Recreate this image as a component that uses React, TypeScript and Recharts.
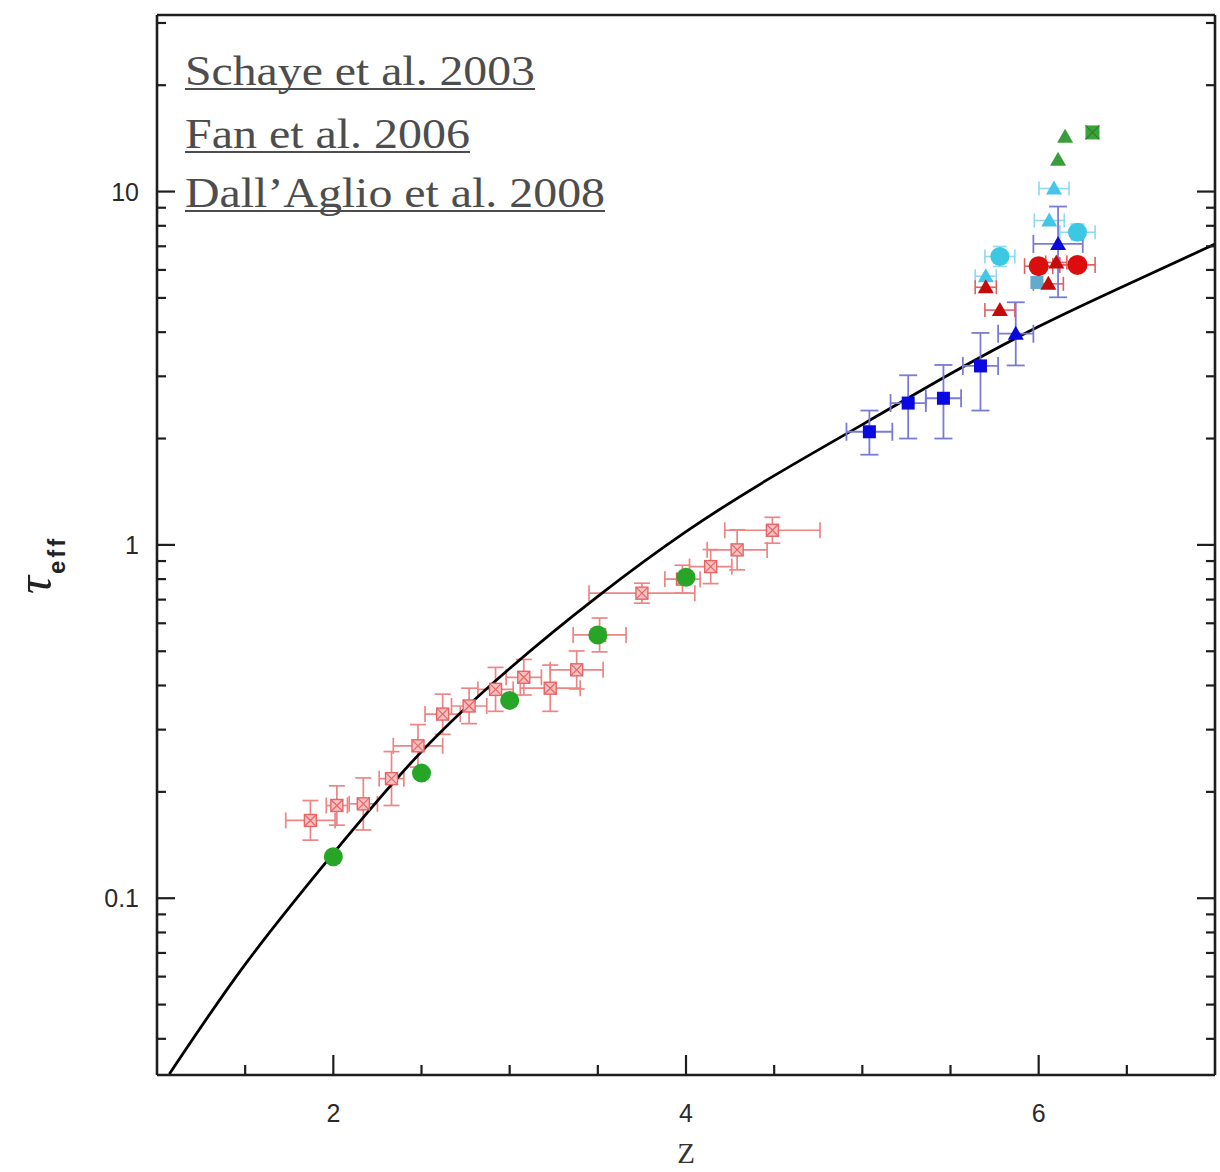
import React from "react";
import { ComposedChart, Scatter, Line, XAxis, YAxis, ErrorBar } from "recharts";

const W = 1220;
const H = 1172;

// best-fit model curve, tau_eff(z)
const modelZ = [1.07, 1.5, 2, 2.5, 3, 3.5, 4, 4.5, 5, 5.5, 6, 6.5, 7];
const modelTau = [0.0318, 0.065, 0.134, 0.26, 0.447, 0.715, 1.09, 1.57, 2.19, 3.05, 4.15, 5.45, 7.1];

// Schaye et al. 2003 (pink crossed squares)
const schayeZ = [1.87, 2.02, 2.17, 2.33, 2.48, 2.62, 2.77, 2.92, 3.08, 3.23, 3.38, 3.51, 3.75, 3.98, 4.14, 4.29, 4.49];
const schayeTau = [0.166, 0.183, 0.185, 0.218, 0.27, 0.332, 0.35, 0.39, 0.422, 0.393, 0.443, 0.556, 0.73, 0.8, 0.868, 0.968, 1.1];
const schayeZErr = [0.14, 0.06, 0.08, 0.07, 0.14, 0.1, 0.1, 0.1, 0.1, 0.17, 0.15, 0.15, 0.3, 0.1, 0.12, 0.17, 0.27];
const schayeTauLo = [0.02, 0.022, 0.029, 0.035, 0.035, 0.041, 0.038, 0.052, 0.046, 0.055, 0.052, 0.058, 0.046, 0.07, 0.091, 0.118, 0.089];
const schayeTauHi = [0.023, 0.025, 0.034, 0.042, 0.04, 0.046, 0.043, 0.06, 0.052, 0.064, 0.058, 0.065, 0.049, 0.076, 0.102, 0.135, 0.097];

// Dall'Aglio et al. 2008 (green circles)
const dallZ = [2, 2.5, 3, 3.5, 4];
const dallTau = [0.131, 0.226, 0.363, 0.556, 0.81];

// Fan et al. 2006, binned (blue squares)
const fanZ = [5.04, 5.26, 5.46, 5.67];
const fanTau = [2.09, 2.52, 2.6, 3.21];
const fanZErr = [0.13, 0.1, 0.1, 0.1];
const fanTauLo = [0.29, 0.52, 0.6, 0.81];
const fanTauHi = [0.31, 0.5, 0.63, 0.77];

// Fan et al. 2006, individual sightlines
const blueTriZ = [5.87, 6.11];
const blueTriTau = [3.96, 7.11];
const blueTriZErr = [0.1, 0.14];
const blueTriTauLo = [0.74, 2.09];
const blueTriTauHi = [0.9, 1.96];

const redTriZ = [5.7, 5.78, 6.055, 6.1];
const redTriTau = [5.36, 4.62, 5.48, 6.3];
const redTriZErr = [0.06, 0.085, 0.085, 0.06];

const redDotZ = [6.0, 6.22];
const redDotTau = [6.15, 6.2];
const redDotZErr = [0.08, 0.1];

const cyanTriZ = [5.7, 6.06, 6.087];
const cyanTriTau = [5.76, 8.28, 10.2];
const cyanTriZErr = [0.06, 0.085, 0.085];

const cyanDotZ = [5.78, 6.22];
const cyanDotTau = [6.55, 7.67];
const cyanDotZErr = [0.085, 0.1];
const cyanDotTauLo = [0.41, 0.37];
const cyanDotTauHi = [0.44, 0.42];

const cyanSqZ = [5.99];
const cyanSqTau = [5.53];

const greenTriZ = [6.11, 6.15];
const greenTriTau = [12.3, 14.3];
const greenSqZ = [6.305];
const greenSqTau = [14.7];

// axes
const xTicks = [1.5, 2, 2.5, 3, 3.5, 4, 4.5, 5, 5.5, 6, 6.5];
const xMajor = [2, 4, 6];
const yTicks = [
  0.04, 0.05, 0.06, 0.07, 0.08, 0.09, 0.1, 0.2, 0.3, 0.4, 0.5, 0.6, 0.7, 0.8, 0.9,
  1, 2, 3, 4, 5, 6, 7, 8, 9, 10, 20, 30,
];
const yMajor = [0.1, 1, 10];
const yLabels: Record<string, string> = { "0.1": "0.1", "1": "1", "10": "10" };

const references = ["Schaye et al. 2003", "Fan et al. 2006", "Dall\u2019Aglio et al. 2008"];
const refBaseline = [85, 148, 207];
const refWidth = [350, 285, 420];

type Pt = { z: number; tau: number; ze?: number; te?: [number, number] };

function rows(z: number[], tau: number[], ze?: number[], lo?: number[], hi?: number[]): Pt[] {
  return z.map((v, i) => ({
    z: v,
    tau: tau[i],
    ze: ze ? ze[i] : 0,
    te: lo && hi ? [lo[i], hi[i]] : [0, 0],
  }));
}

const modelData = modelZ.map((z, i) => ({ z, tau: modelTau[i] }));
const schayeData = rows(schayeZ, schayeTau, schayeZErr, schayeTauLo, schayeTauHi);
const dallData = rows(dallZ, dallTau);
const fanData = rows(fanZ, fanTau, fanZErr, fanTauLo, fanTauHi);
const blueTriData = rows(blueTriZ, blueTriTau, blueTriZErr, blueTriTauLo, blueTriTauHi);
const redTriData = rows(redTriZ, redTriTau, redTriZErr);
const redDotData = rows(redDotZ, redDotTau, redDotZErr);
const cyanTriData = rows(cyanTriZ, cyanTriTau, cyanTriZErr);
const cyanDotData = rows(cyanDotZ, cyanDotTau, cyanDotZErr, cyanDotTauLo, cyanDotTauHi);
const cyanSqData = rows(cyanSqZ, cyanSqTau);
const greenTriData = rows(greenTriZ, greenTriTau);
const greenSqData = rows(greenSqZ, greenSqTau);

const FRAME = "#1e1e1e";
const TICK_FONT = "'Liberation Sans', Arial, sans-serif";
const SERIF = "'Liberation Serif', 'Times New Roman', serif";

// marker shapes
const dot = (fill: string, r: number) => (p: any) =>
  <circle cx={p.cx} cy={p.cy} r={r} fill={fill} />;

const square = (fill: string, s: number) => (p: any) =>
  <rect x={p.cx - s} y={p.cy - s} width={2 * s} height={2 * s} fill={fill} />;

const tri = (fill: string, s: number) => (p: any) =>
  <path
    d={`M${p.cx},${p.cy - s}L${p.cx + s},${p.cy + s * 0.75}L${p.cx - s},${p.cy + s * 0.75}Z`}
    fill={fill}
  />;

const crossSquare = (p: any) => {
  const s = 6;
  const { cx, cy } = p;
  return (
    <g>
      <rect x={cx - s} y={cy - s} width={2 * s} height={2 * s} fill="#f8c0c0" stroke="#e66565" strokeWidth={1.4} />
      <path
        d={`M${cx - s},${cy - s}L${cx + s},${cy + s}M${cx + s},${cy - s}L${cx - s},${cy + s}`}
        stroke="#e66565"
        strokeWidth={1.2}
      />
    </g>
  );
};

const greenCrossSquare = (p: any) => {
  const s = 7;
  const { cx, cy } = p;
  return (
    <g>
      <rect x={cx - s} y={cy - s} width={2 * s} height={2 * s} fill="#3aa33a" />
      <path
        d={`M${cx - s},${cy - s}L${cx + s},${cy + s}M${cx + s},${cy - s}L${cx - s},${cy + s}`}
        stroke="#2a7f2a"
        strokeWidth={1.2}
      />
    </g>
  );
};

// ticks point into the plot; labels only on the major ones
const BottomTick = (p: any) => {
  const major = xMajor.includes(p.payload.value);
  return (
    <g>
      <line x1={p.x} x2={p.x} y1={p.y} y2={p.y - (major ? 20 : 10)} stroke={FRAME} strokeWidth={2.2} />
      {major && (
        <text x={p.x} y={p.y + 47} textAnchor="middle" fontSize={25} fill="#2a2a2a" fontFamily={TICK_FONT}>
          {p.payload.value}
        </text>
      )}
    </g>
  );
};

const TopTick = (p: any) => {
  const major = xMajor.includes(p.payload.value);
  return <line x1={p.x} x2={p.x} y1={p.y} y2={p.y + (major ? 20 : 10)} stroke={FRAME} strokeWidth={2.2} />;
};

const LeftTick = (p: any) => {
  const major = yMajor.includes(p.payload.value);
  const label = yLabels[String(p.payload.value)];
  return (
    <g>
      <line x1={p.x} x2={p.x + (major ? 18 : 9)} y1={p.y} y2={p.y} stroke={FRAME} strokeWidth={2.2} />
      {label && (
        <text x={p.x - 18} y={p.y + 9} textAnchor="end" fontSize={25} fill="#2a2a2a" fontFamily={TICK_FONT}>
          {label}
        </text>
      )}
    </g>
  );
};

const RightTick = (p: any) => {
  const major = yMajor.includes(p.payload.value);
  return <line x1={p.x} x2={p.x - (major ? 18 : 9)} y1={p.y} y2={p.y} stroke={FRAME} strokeWidth={2.2} />;
};

const axisLine = { stroke: FRAME, strokeWidth: 2.6 };
const yDomain = [0.0316, 31.6];

export default function App() {
  return (
    <div style={{ position: "absolute", left: 0, top: 0, width: W, height: H, background: "#fff" }}>
      <ComposedChart width={W} height={H} margin={{ top: 14, right: 4, bottom: 96, left: 156 }}>
        <XAxis
          xAxisId="b"
          dataKey="z"
          type="number"
          domain={[1, 7]}
          allowDataOverflow
          ticks={xTicks}
          interval={0}
          height={1}
          tickSize={0}
          tickMargin={0}
          axisLine={axisLine}
          tick={BottomTick}
        />
        <XAxis
          xAxisId="t"
          orientation="top"
          type="number"
          domain={[1, 7]}
          allowDataOverflow
          ticks={xTicks}
          interval={0}
          height={1}
          tickSize={0}
          tickMargin={0}
          axisLine={axisLine}
          tick={TopTick}
        />
        <YAxis
          yAxisId="l"
          dataKey="tau"
          type="number"
          scale="log"
          domain={yDomain}
          allowDataOverflow
          ticks={yTicks}
          interval={0}
          width={1}
          tickSize={0}
          tickMargin={0}
          axisLine={axisLine}
          tick={LeftTick}
        />
        <YAxis
          yAxisId="r"
          orientation="right"
          type="number"
          scale="log"
          domain={yDomain}
          allowDataOverflow
          ticks={yTicks}
          interval={0}
          width={1}
          tickSize={0}
          tickMargin={0}
          axisLine={axisLine}
          tick={RightTick}
        />

        <Scatter xAxisId="b" yAxisId="l" data={schayeData} shape={crossSquare} isAnimationActive={false}>
          <ErrorBar dataKey="ze" direction="x" width={8} stroke="#ee8585" strokeWidth={1.7} />
          <ErrorBar dataKey="te" direction="y" width={8} stroke="#ee8585" strokeWidth={1.7} />
        </Scatter>
        <Line
          xAxisId="b"
          yAxisId="l"
          data={modelData}
          dataKey="tau"
          type="natural"
          stroke="#000"
          strokeWidth={2.8}
          dot={false}
          activeDot={false}
          isAnimationActive={false}
        />
        <Scatter xAxisId="b" yAxisId="l" data={dallData} shape={dot("#27a527", 9.5)} isAnimationActive={false} />
        <Scatter xAxisId="b" yAxisId="l" data={fanData} shape={square("#0a0ae0", 6.5)} isAnimationActive={false}>
          <ErrorBar dataKey="ze" direction="x" width={9} stroke="#7a7ad8" strokeWidth={1.8} />
          <ErrorBar dataKey="te" direction="y" width={9} stroke="#7a7ad8" strokeWidth={1.8} />
        </Scatter>
        <Scatter xAxisId="b" yAxisId="l" data={cyanTriData} shape={tri("#45c6e6", 8)} isAnimationActive={false}>
          <ErrorBar dataKey="ze" direction="x" width={7} stroke="#8ed8f0" strokeWidth={1.6} />
        </Scatter>
        <Scatter xAxisId="b" yAxisId="l" data={cyanSqData} shape={square("#63abcc", 6.5)} isAnimationActive={false} />
        <Scatter xAxisId="b" yAxisId="l" data={cyanDotData} shape={dot("#3cc8e2", 9.5)} isAnimationActive={false}>
          <ErrorBar dataKey="ze" direction="x" width={7} stroke="#8ed8f0" strokeWidth={1.6} />
          <ErrorBar dataKey="te" direction="y" width={7} stroke="#8ed8f0" strokeWidth={1.6} />
        </Scatter>
        <Scatter xAxisId="b" yAxisId="l" data={redTriData} shape={tri("#c40a0a", 8)} isAnimationActive={false}>
          <ErrorBar dataKey="ze" direction="x" width={7} stroke="#e06060" strokeWidth={1.6} />
        </Scatter>
        <Scatter xAxisId="b" yAxisId="l" data={redDotData} shape={dot("#dc0d0d", 10)} isAnimationActive={false}>
          <ErrorBar dataKey="ze" direction="x" width={8} stroke="#e06060" strokeWidth={1.6} />
        </Scatter>
        <Scatter xAxisId="b" yAxisId="l" data={blueTriData} shape={tri("#0a0ad8", 8)} isAnimationActive={false}>
          <ErrorBar dataKey="ze" direction="x" width={9} stroke="#7a7ad8" strokeWidth={1.8} />
          <ErrorBar dataKey="te" direction="y" width={9} stroke="#7a7ad8" strokeWidth={1.8} />
        </Scatter>
        <Scatter xAxisId="b" yAxisId="l" data={greenTriData} shape={tri("#3b9c3b", 8)} isAnimationActive={false} />
        <Scatter xAxisId="b" yAxisId="l" data={greenSqData} shape={greenCrossSquare} isAnimationActive={false} />
      </ComposedChart>

      <svg width={W} height={H} style={{ position: "absolute", left: 0, top: 0, pointerEvents: "none" }}>
        {references.map((r, i) => (
          <g key={r}>
            <text
              x={185}
              y={refBaseline[i]}
              fontSize={43}
              fill="#4d4d4d"
              fontFamily={SERIF}
              textLength={refWidth[i]}
              lengthAdjust="spacingAndGlyphs"
            >
              {r}
            </text>
            <line
              x1={185}
              x2={185 + refWidth[i]}
              y1={refBaseline[i] + 4}
              y2={refBaseline[i] + 4}
              stroke="#4d4d4d"
              strokeWidth={2}
            />
          </g>
        ))}
        <text x={686} y={1163} textAnchor="middle" fontSize={29} fill="#333" fontFamily={SERIF}>
          Z
        </text>
        <g transform="rotate(-90 51 594)">
          <text x={51} y={594} fill="#222">
            <tspan fontSize={50} fontStyle="italic" fontFamily={SERIF}>
              {"\u03c4"}
            </tspan>
            <tspan dx={2} dy={14} fontSize={24} fontWeight="bold" fontFamily={TICK_FONT} letterSpacing={3}>
              eff
            </tspan>
          </text>
        </g>
      </svg>
    </div>
  );
}
